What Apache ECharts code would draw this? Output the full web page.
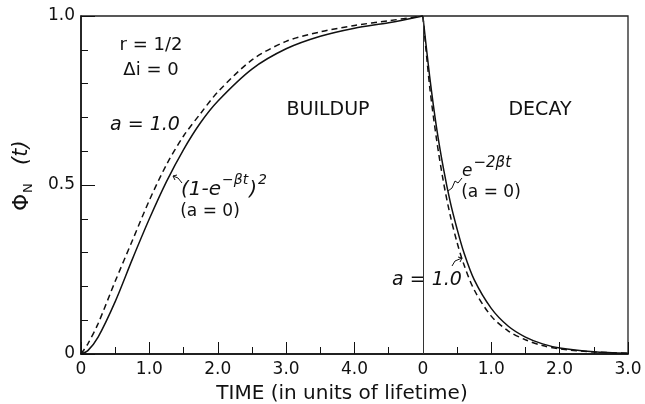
<!DOCTYPE html>
<html>
<head>
<meta charset="utf-8">
<script src="https://cdn.jsdelivr.net/npm/echarts@6/dist/echarts.min.js"></script>
<style>
  html, body { margin: 0; padding: 0; background: #fff; }
  #chart-ctn { width: 645px; height: 404px; }
</style>
</head>
<body>
<div id="chart-ctn"></div>
<script>
// buildup part, t in lifetimes
var buildupT = [0, 0.1, 0.25, 0.5, 0.75, 1.0, 1.25, 1.5, 1.75, 2.0, 2.5, 3.0, 3.5, 4.0, 4.5, 5.0];
var buildupSolid = [0, 0.01, 0.05, 0.155, 0.28, 0.40, 0.51, 0.605, 0.685, 0.748, 0.843, 0.903, 0.94, 0.964, 0.98, 1.0];
var buildupDashed = [0, 0.03, 0.09, 0.215, 0.335, 0.455, 0.56, 0.645, 0.712, 0.775, 0.87, 0.925, 0.953, 0.972, 0.986, 1.0];

// decay part, t counted again from 0
var decayT = [0, 0.1, 0.2, 0.3, 0.4, 0.5, 0.6, 0.75, 1.0, 1.25, 1.5, 1.75, 2.0, 2.5, 3.0];
var decaySolid = [1.0, 0.82, 0.67, 0.55, 0.45, 0.37, 0.30, 0.22, 0.135, 0.082, 0.05, 0.03, 0.018, 0.007, 0.002];
var decayDashed = [1.0, 0.79, 0.635, 0.51, 0.41, 0.33, 0.265, 0.19, 0.112, 0.068, 0.042, 0.025, 0.015, 0.006, 0.002];

var decayStart = 5;
var xTickLabels = ['0', '1.0', '2.0', '3.0', '4.0', '0', '1.0', '2.0', '3.0'];
var yTickLabels = ['0', '0.5', '1.0'];

var FONT = '"DejaVu Sans", Verdana, sans-serif';
var measureCtx = document.createElement('canvas').getContext('2d');

function pairs(ts, vs, offset) {
  var out = [];
  for (var i = 0; i < ts.length; i++) {
    out.push([ts[i] + offset, vs[i]]);
  }
  return out;
}

function lineSeries(data, dashed) {
  return {
    type: 'line',
    data: data,
    symbol: 'none',
    smooth: 0.3,
    silent: true,
    lineStyle: {
      color: '#111',
      width: 1.5,
      type: dashed ? [6, 4] : 'solid'
    }
  };
}

function fontOf(size, italic) {
  return (italic ? 'italic ' : '') + size + 'px ' + FONT;
}

function txt(x, y, s, size, opts) {
  opts = opts || {};
  return {
    type: 'text',
    x: x,
    y: y,
    silent: true,
    style: {
      text: s,
      fill: '#111',
      font: fontOf(size, opts.italic),
      textAlign: opts.align || 'left',
      textVerticalAlign: 'middle'
    }
  };
}

// lay out pieces one after another (for superscripts)
// parts: [text, size, dy, italic]
function seq(x, y, parts) {
  var out = [];
  var cx = x;
  parts.forEach(function (p) {
    out.push(txt(cx, y + p[2], p[0], p[1], { italic: p[3] }));
    measureCtx.font = fontOf(p[1], p[3]);
    cx += measureCtx.measureText(p[0]).width + 1;
  });
  return out;
}

function path(points) {
  return {
    type: 'polyline',
    silent: true,
    shape: { points: points },
    style: { stroke: '#111', lineWidth: 1, fill: null }
  };
}

var myChart = echarts.init(document.getElementById('chart-ctn'));

var graphics = [
  txt(151, 45, 'r = 1/2', 18, { align: 'center' }),
  txt(151, 70, 'Δi = 0', 18, { align: 'center' }),
  txt(145, 125, 'a = 1.0', 19, { align: 'center', italic: true }),
  txt(328, 110, 'BUILDUP', 19, { align: 'center' }),
  txt(540, 110, 'DECAY', 19, { align: 'center' }),
  txt(210, 212, '(a = 0)', 17, { align: 'center' }),
  path([[182, 183], [178, 178], [173, 176]]),
  path([[173, 176], [177, 175]]),
  path([[173, 176], [175, 180]]),
  txt(491, 193, '(a = 0)', 17, { align: 'center' }),
  path([[462, 178], [458, 183], [455, 181], [452, 188], [448, 191]]),
  txt(427, 280, 'a = 1.0', 19, { align: 'center', italic: true }),
  path([[452, 266], [455, 261], [462, 258]]),
  path([[462, 258], [458, 257]]),
  path([[462, 258], [460, 262]]),
  txt(342, 394, 'TIME (in units of lifetime)', 20, { align: 'center' }),
  // y axis title, reads bottom to top
  {
    type: 'group',
    x: 22, y: 211,
    rotation: Math.PI / 2,
    silent: true,
    children: [
      txt(0, 0, 'Φ', 22),
      txt(18, 7, 'N', 13),
      txt(46, 0, '(t)', 21, { italic: true })
    ]
  }
];

// (1-e^-βt)^2 and e^-2βt
graphics = graphics.concat(seq(181, 190, [
  ['(1-e', 20, 0, true], ['−βt', 14, -10, true], [')', 20, 0, true], ['2', 14, -10, true]
]));
graphics = graphics.concat(seq(462, 172, [
  ['e', 17, 0, true], ['−2βt', 15, -9, true]
]));

var option = {
  animation: false,
  grid: {
    left: 81, right: 17, top: 16, bottom: 50,
    show: true, borderColor: '#222', borderWidth: 1.3
  },
  xAxis: {
    type: 'value',
    min: 0, max: 8, interval: 1,
    axisLine: { lineStyle: { color: '#111', width: 1.5 } },
    axisTick: { inside: true, length: 12, lineStyle: { color: '#111', width: 1 } },
    minorTick: { show: true, splitNumber: 2, length: 7, lineStyle: { color: '#111', width: 1 } },
    splitLine: { show: false },
    axisLabel: {
      color: '#111', fontSize: 17, fontFamily: FONT, margin: 7,
      formatter: function (v) { return xTickLabels[Math.round(v)]; }
    }
  },
  yAxis: {
    type: 'value',
    min: 0, max: 1, interval: 0.5,
    axisLine: { show: true, lineStyle: { color: '#111', width: 1.5 } },
    axisTick: { inside: true, length: 14, lineStyle: { color: '#111', width: 1 } },
    minorTick: { show: true, splitNumber: 5, length: 7, lineStyle: { color: '#111', width: 1 } },
    splitLine: { show: false },
    axisLabel: {
      color: '#111', fontSize: 17, fontFamily: FONT, margin: 6,
      formatter: function (v) { return yTickLabels[Math.round(v * 2)]; }
    }
  },
  series: [
    (function () {
      var s = lineSeries(pairs(buildupT, buildupSolid, 0), false);
      s.markLine = {
        silent: true, symbol: 'none', label: { show: false },
        lineStyle: { color: '#333', width: 1, type: 'solid' },
        data: [{ xAxis: decayStart }]
      };
      return s;
    })(),
    lineSeries(pairs(buildupT, buildupDashed, 0), true),
    lineSeries(pairs(decayT, decaySolid, decayStart), false),
    lineSeries(pairs(decayT, decayDashed, decayStart), true)
  ],
  graphic: graphics
};

myChart.setOption(option);
</script>
</body>
</html>
